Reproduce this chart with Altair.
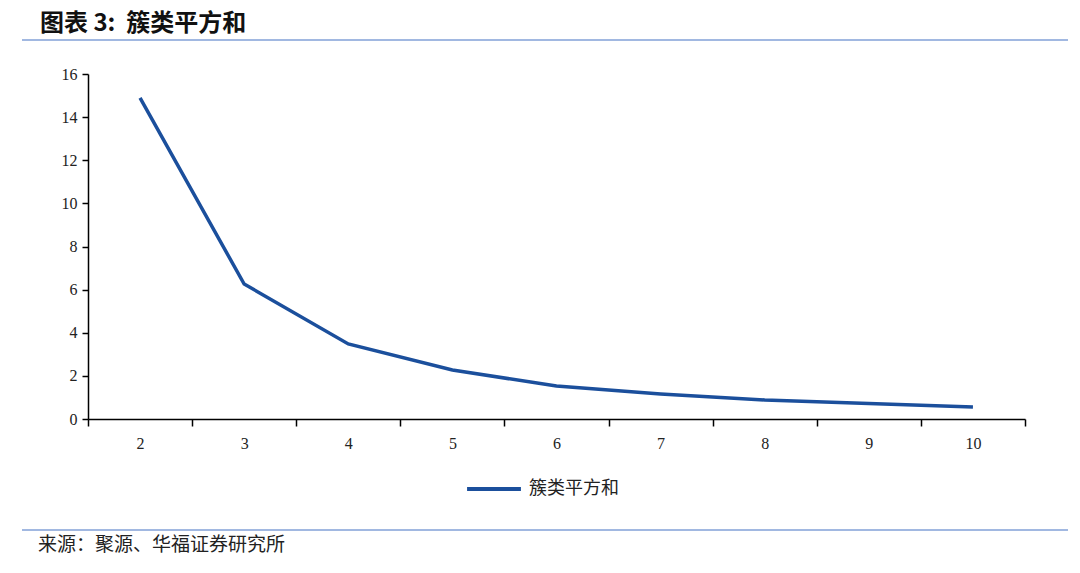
import altair as alt
import pandas as pd

clusters = ["2", "3", "4", "5", "6", "7", "8", "9", "10"]
sse = [14.89, 6.26, 3.48, 2.27, 1.53, 1.16, 0.88, 0.72, 0.56]
series_name = "簇类平方和"
title_text = "图表 3:\u00a0\u00a0簇类平方和"
source_text = "来源：聚源、华福证券研究所"

df = pd.DataFrame({"k": clusters, "sse": sse, "series": [series_name] * len(clusters)})

W, H = 937, 345
BLUE = "#1b4f9c"
RULE = "#4472c4"
SERIF = "Liberation Serif"
CJK = "Noto Sans CJK SC"

line = alt.Chart(df).mark_line(strokeWidth=3.5).encode(
    x=alt.X("k:O", sort=clusters, title=None,
            scale=alt.Scale(paddingInner=0, paddingOuter=0),
            axis=alt.Axis(labelAngle=0, tickBand="extent", domainColor="black", domainWidth=1.5,
                          tickColor="black", tickWidth=1.5, tickSize=7,
                          labelFont=SERIF, labelFontSize=16, labelColor="#222",
                          labelPadding=9, grid=False)),
    y=alt.Y("sse:Q", title=None,
            scale=alt.Scale(domain=[0, 16], nice=False),
            axis=alt.Axis(values=list(range(0, 17, 2)), domainColor="black", domainWidth=1.5,
                          tickColor="black", tickWidth=1.5, tickSize=6,
                          labelFont=SERIF, labelFontSize=16, labelColor="#222",
                          labelPadding=5, grid=False)),
    color=alt.Color("series:N", scale=alt.Scale(range=[BLUE]), title=None,
                    legend=alt.Legend(orient="none", legendX=377, legendY=386,
                                      symbolType="stroke", symbolStrokeWidth=4,
                                      symbolSize=2900, labelFont=CJK, labelFontSize=18,
                                      labelColor="#222", labelOffset=6)),
)

title = alt.Chart(pd.DataFrame({"t": [title_text]})).mark_text(
    align="left", baseline="middle", font=CJK, fontWeight="bold", fontSize=24, color="#111"
).encode(text="t:N", x=alt.value(-48), y=alt.value(-50))

src = alt.Chart(pd.DataFrame({"t": [source_text]})).mark_text(
    align="left", baseline="middle", font=CJK, fontSize=19, color="#222"
).encode(text="t:N", x=alt.value(-50), y=alt.value(471))

top_rule = alt.Chart(pd.DataFrame({"a": [0]})).mark_rule(color=RULE, strokeWidth=1.2).encode(
    x=alt.value(-66), x2=alt.value(980), y=alt.value(-34))
bot_rule = alt.Chart(pd.DataFrame({"a": [0]})).mark_rule(color=RULE, strokeWidth=1.2).encode(
    x=alt.value(-66), x2=alt.value(980), y=alt.value(456))

chart = alt.layer(line, title, src, top_rule, bot_rule).properties(
    width=W, height=H,
    background="white",
    autosize=alt.AutoSizeParams(type="none"),
    padding={"left": 80, "top": 66, "right": 47, "bottom": 146},
).configure_view(stroke=None)

chart.save("out.html", embed_options={"renderer": "svg", "actions": False})
